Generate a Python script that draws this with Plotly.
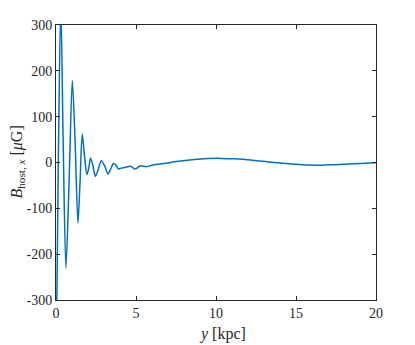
import plotly.graph_objects as go

# B_host,x along y (kpc)
y_kpc = [0.0, 0.06, 0.15, 0.3, 0.45, 0.62, 0.82, 1.02, 1.2, 1.37, 1.5, 1.64,
         1.78, 1.93, 2.05, 2.16, 2.3, 2.46, 2.65, 2.83, 3.05, 3.25, 3.42, 3.6,
         3.75, 3.91, 4.1, 4.3, 4.64, 4.96, 5.27, 5.64, 6.0, 7.0, 7.5, 8.5, 9.5,
         10.3, 11.2, 12.3, 13.5, 15.0, 16.3, 18.0, 20.0]
b_host = [-420, -280, 20, 345, 40, -230, -40, 179, 40, -132, -45, 62,
          15, -26, -12, 10, -6, -30, -14, 4, -8, -25, -14, -2,
          -6, -14, -12, -11, -8, -14, -7, -9, -6, -1, 2, 6, 8.5,
          9, 8, 5, 0.5, -4, -6, -4, -0.7]

y_ticks = [-300, -200, -100, 0, 100, 200, 300]
x_ticks = [0, 5, 10, 15, 20]

SERIF = "Liberation Serif, 'Times New Roman', DejaVu Serif, serif"
INK = "#262626"

fig = go.Figure(go.Scatter(
    x=y_kpc, y=b_host, mode="lines",
    line=dict(color="#0072BD", width=1.5, shape="spline", smoothing=0.8),
    showlegend=False,
))

axis_style = dict(
    showline=True, linecolor=INK, linewidth=1, mirror="ticks",
    ticks="inside", ticklen=4, tickcolor=INK,
    showgrid=False, zeroline=False,
    tickfont=dict(family=SERIF, size=14, color=INK),
)

fig.update_xaxes(range=[0, 20], tickvals=x_ticks, ticktext=[str(t) for t in x_ticks],
                 **axis_style)
fig.update_yaxes(range=[-300, 300], tickvals=y_ticks, ticktext=[str(t) for t in y_ticks],
                 **axis_style)

# axis titles as annotations so they sit where MATLAB put them
fig.add_annotation(text="<i>y</i> [kpc]", xref="paper", yref="paper", x=0.52, y=0,
                   yshift=-34, showarrow=False, yanchor="middle",
                   font=dict(family=SERIF, size=16, color=INK))
fig.add_annotation(text="<i>B</i><sub>host, <i>x</i></sub> [<i>μ</i>G]", xref="paper", yref="paper",
                   x=0, y=0.5, xshift=-39, textangle=-90, showarrow=False,
                   xanchor="center", yanchor="middle",
                   font=dict(family=SERIF, size=16, color=INK))

# the page adds an 8px body margin, so margins are shifted to compensate
fig.update_layout(
    width=415, height=345,
    font=dict(family=SERIF, color=INK),
    margin=dict(l=48, r=47, t=17, b=53, autoexpand=False),
    plot_bgcolor="white", paper_bgcolor="white",
)

fig.write_html("out.html")
